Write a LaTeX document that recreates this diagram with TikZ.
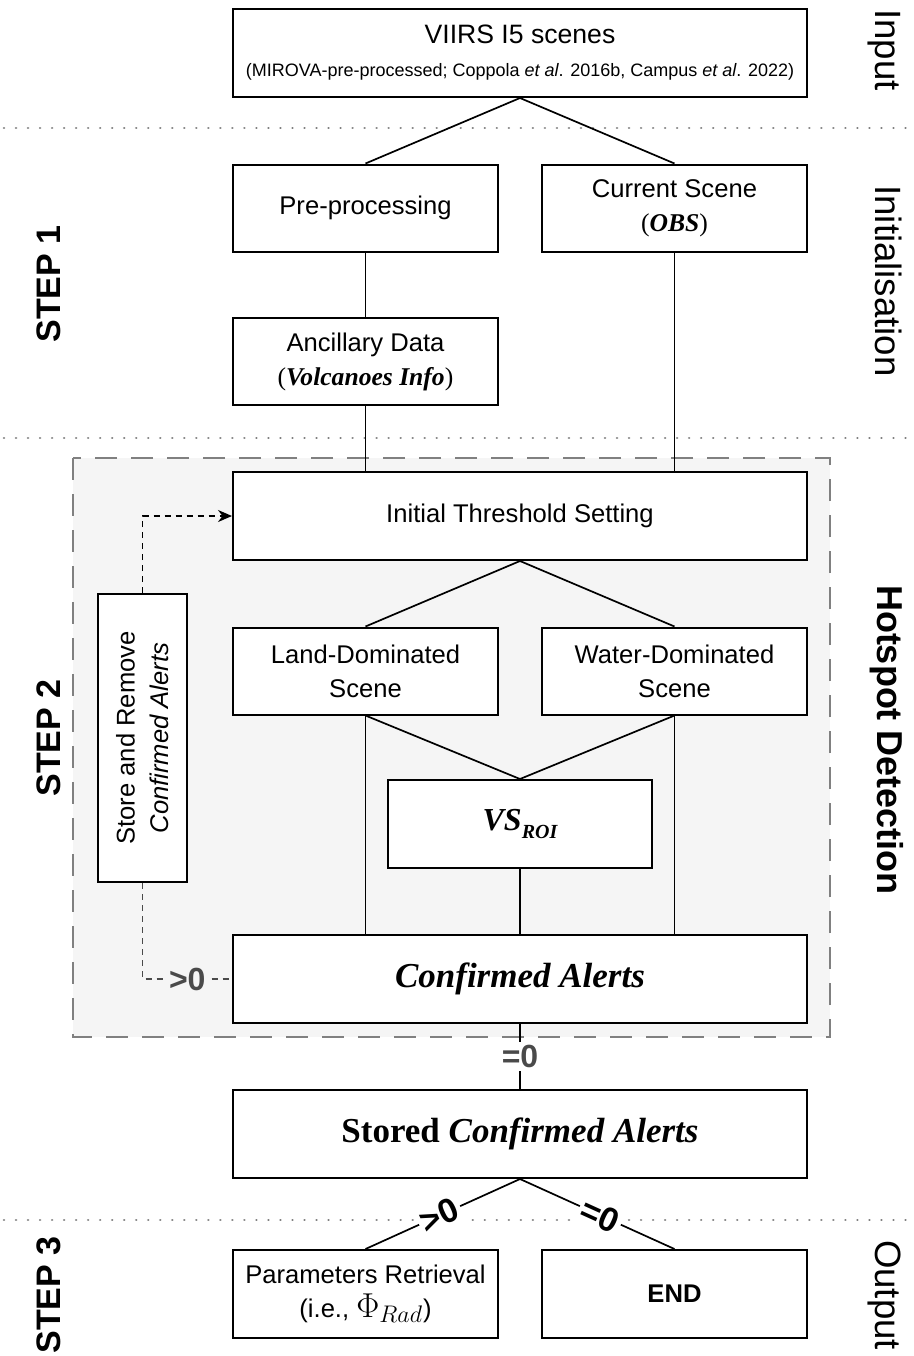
\documentclass[tikz,border=0pt]{standalone}
\usepackage{fontspec}
\setmainfont{Liberation Sans}
\newfontfamily\tnr{Liberation Serif}
\usetikzlibrary{arrows.meta}
\definecolor{bggray}{HTML}{F5F5F5}
\definecolor{dashgray}{HTML}{808080}
\definecolor{lblgray}{HTML}{4A4A4A}
\begin{document}
\begin{tikzpicture}[x=0.5pt,y=-0.5pt,
  box/.style={draw=black, fill=white, line width=1pt, align=center, inner sep=0pt,
    font=\fontsize{12.8}{17}\selectfont},
  wide/.style={box, minimum width=287pt, minimum height=44pt},
  half/.style={box, minimum width=132.5pt, minimum height=43.5pt},
  conn/.style={line width=0.85pt},
  fbk/.style={line width=0.9pt, dash pattern=on 3pt off 2.5pt},
  sep/.style={dashgray, line width=1.3pt, dash pattern=on 0.01pt off 6pt, line cap=round},
  side/.style={font=\fontsize{18.3}{22}\selectfont, rotate=-90, anchor=base},
  steplbl/.style={font=\bfseries\fontsize{17}{20}\selectfont, rotate=90, anchor=base},
  cond/.style={font=\bfseries\fontsize{16}{18}\selectfont, text=lblgray, inner sep=1.5pt},
]
\path[use as bounding box, fill=white] (0,0) rectangle (914,1356);

% separators
\draw[sep] (4,128) -- (914,128);
\draw[sep] (4,438) -- (914,438);
\draw[sep] (4,1220) -- (914,1220);

% hotspot detection group
\draw[dashgray, line width=0.9pt, dash pattern=on 11pt off 7pt, fill=bggray] (73,458) rectangle (830,1037);

% nodes
\node[wide] (in) at (520,53) {\fontsize{13.3}{17}\selectfont VIIRS I5 scenes\\[-0.5pt]
  {\fontsize{9}{11}\selectfont (MIROVA-pre-processed; Coppola \textit{et al}. 2016b, Campus \textit{et al}. 2022)}};
\node[half] (pre) at (365.5,208) {Pre-processing};
\node[half] (cur) at (674.5,208) {Current Scene\\{\tnr(\textbf{\textit{OBS}})}};
\node[half] (anc) at (365.5,361.5) {Ancillary Data\\{\tnr(\textbf{\textit{Volcanoes Info}})}};
\node[wide] (its) at (520,516) {Initial Threshold Setting};
\node[half] (land) at (365.5,671) {Land-Dominated\\Scene};
\node[half] (water) at (674.5,671) {Water-Dominated\\Scene};
\node[box, minimum width=132pt, minimum height=44pt] (vs) at (520,824)
  {{\tnr\bfseries\itshape\fontsize{16}{20}\selectfont VS\raisebox{-4pt}{\fontsize{10}{11}\selectfont ROI}}};
\node[wide] (conf) at (520,979) {{\tnr\bfseries\itshape\fontsize{17.5}{20}\selectfont Confirmed Alerts}};
\node[box, rotate=90, minimum width=144pt, minimum height=44.5pt] (store) at (142.5,738)
  {Store and Remove\\\textit{Confirmed Alerts}};
\node[wide] (stored) at (520,1134) {{\tnr\bfseries\fontsize{17.5}{20}\selectfont Stored \textit{Confirmed Alerts}}};
\node[half, minimum height=44pt] (par) at (365.5,1294) {Parameters Retrieval\\(i.e., {\fontsize{17}{17}\selectfont$\Phi_{Rad}$})};
\node[half, minimum height=44pt] (end) at (674.5,1294) {\textbf{END}};

% connectors
\draw[conn] (in.south) -- (pre.north);
\draw[conn] (in.south) -- (cur.north);
\draw[conn] (pre.south) -- (anc.north);
\draw[conn] (anc.south) -- (anc.south |- its.north);
\draw[conn] (cur.south) -- (cur.south |- its.north);
\draw[conn] (its.south) -- (land.north);
\draw[conn] (its.south) -- (water.north);
\draw[conn] (land.south) -- (land.south |- conf.north);
\draw[conn] (water.south) -- (water.south |- conf.north);
\draw[conn] (land.south) -- (vs.north);
\draw[conn] (water.south) -- (vs.north);
\draw[conn] (vs.south) -- (conf.north);
\draw[fbk, -{Stealth[length=7pt,width=6pt]}] (store.east) -- (store.east |- its.west) -- (its.west);
\draw[fbk, lblgray] (store.west) -- (store.west |- conf.west) -- node[cond, fill=bggray, pos=0.5] {>0} (conf.west);
\draw[conn] (conf.south) -- node[cond, fill=white, pos=0.5] {=0} (stored.north);
\draw[conn] (stored.south) -- node[cond, text=black, fill=white, sloped, pos=0.52, font=\bfseries\fontsize{17}{18}\selectfont] {>0} (par.north);
\draw[conn] (stored.south) -- node[cond, text=black, fill=white, sloped, pos=0.52, font=\bfseries\fontsize{17}{18}\selectfont] {=0} (end.north);

% side labels
\node[side] (lin) at (875,50) {Input};
\node[side] (lini) at (875,281) {Initialisation};
\node[side, font=\bfseries\fontsize{18}{22}\selectfont] (lhot) at (877,740) {Hotspot Detection};
\node[side] (lout) at (875,1295) {Output};
\node[steplbl] (s1) at (61,284) {STEP 1};
\node[steplbl] (s2) at (61,738) {STEP 2};
\node[steplbl] (s3) at (61,1295) {STEP 3};
\end{tikzpicture}
\end{document}
